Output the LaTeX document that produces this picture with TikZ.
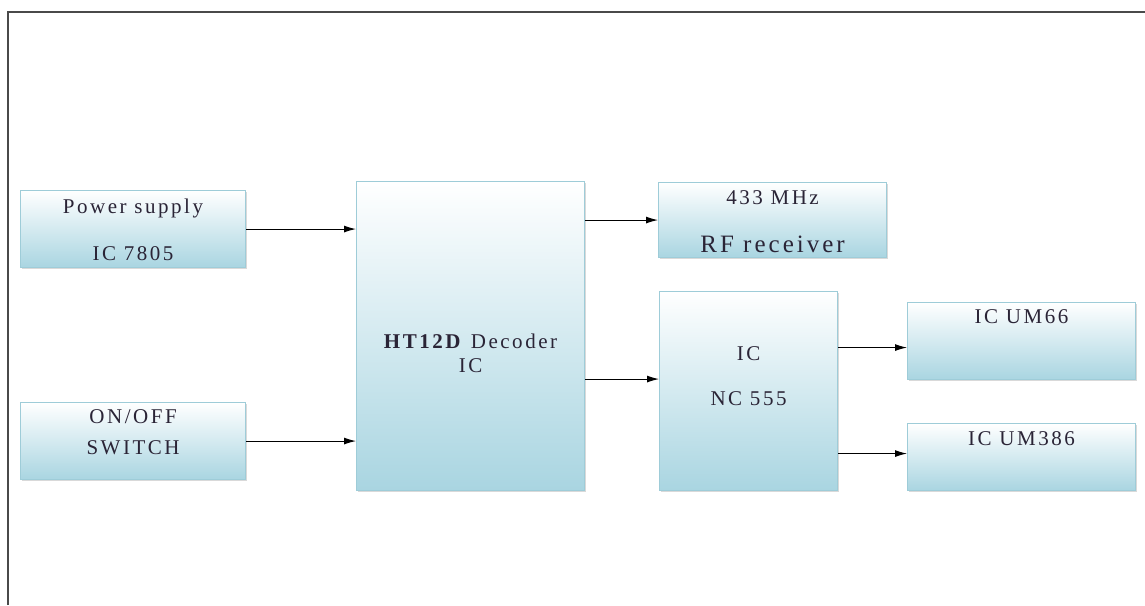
\documentclass[tikz,border=0pt]{standalone}
\usepackage{fontspec}
\setmainfont{Liberation Serif}[LetterSpace=12]
\usetikzlibrary{arrows.meta,positioning,shadows}
\definecolor{boxfill}{HTML}{A9D5E1}
\definecolor{boxline}{HTML}{9ECCD8}
\definecolor{txt}{HTML}{2A2436}
\definecolor{framec}{HTML}{4A4A4A}

\begin{document}
\begin{tikzpicture}[
  x=1pt, y=-1pt,
  >={Latex[length=12pt,width=7pt]},
  every node/.style={text=txt},
  blk/.style={draw=boxline, line width=1.1pt, top color=white, bottom color=boxfill,
     drop shadow={shadow xshift=1.5pt, shadow yshift=-1.5pt, opacity=0.3},
     anchor=north west, align=center, inner xsep=4pt, inner ysep=0pt,
     font=\fontsize{21}{25}\selectfont},
  arr/.style={->, line width=1pt, draw=black},
  frame/.style={line width=2pt, draw=framec},
]
\useasboundingbox (0,0) rectangle (1145,605);
% --- outer frame (left and top only) ---
\draw[frame] (8,605) -- (8,12) -- (1145,12);
% --- inputs ---
\node[blk, minimum width=225pt, text height=70pt, text depth=7pt] (ps) at (20,190)
  {Power supply\\[22pt]IC 7805};
\node[blk, minimum width=225pt, text height=52pt, text depth=25pt] (onoff) at (20,402)
  {ON/OFF\\[6pt]SWITCH};
% --- decoder ---
\node[blk, minimum width=228pt, text height=191pt, text depth=118pt] (ht) at (356,181)
  {\textbf{HT12D} Decoder\\[-1pt]IC};
% --- receiver and timer ---
\node[blk, minimum width=228pt, text height=70pt, text depth=5pt] (rf) at (658,182)
  {433 MHz\\[23pt]{\fontsize{25}{30}\selectfont RF receiver}};
\node[blk, minimum width=178pt, text height=114pt, text depth=85pt] (nc) at (659,291)
  {IC\\[20pt]NC 555};
% --- outputs ---
\node[blk, minimum width=228pt, text height=21pt, text depth=56pt] (um66) at (907,302)
  {IC UM66};
\node[blk, minimum width=228pt, text height=22pt, text depth=45pt] (um386) at (907,423)
  {IC UM386};
% --- arrows ---
\coordinate (ncin) at ([yshift=12pt]nc.west);
\coordinate (umA) at ([yshift=-6.5pt]um66.west);
\coordinate (umB) at ([yshift=3.5pt]um386.west);
\draw[arr] (ps.east) -- (ps.east -| ht.west);
\draw[arr] (onoff.east) -- (onoff.east -| ht.west);
\draw[arr] (rf.west -| ht.east) -- (rf.west);
\draw[arr] (ncin -| ht.east) -- (ncin);
\draw[arr] (umA -| nc.east) -- (umA);
\draw[arr] (umB -| nc.east) -- (umB);
\end{tikzpicture}
\end{document}
